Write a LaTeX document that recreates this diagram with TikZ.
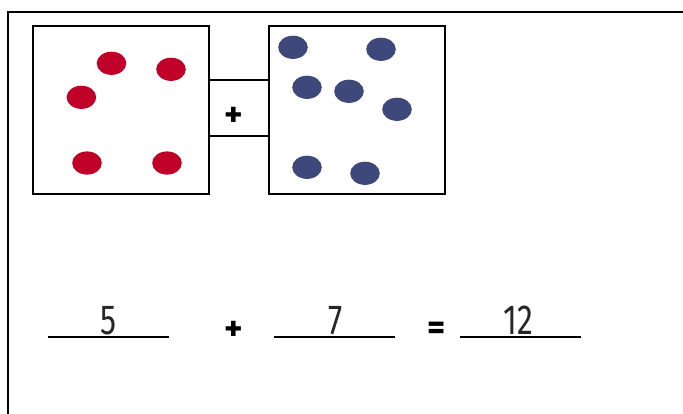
\documentclass[tikz,border=0pt]{standalone}
\usepackage{fontspec}
\setmainfont{Fira Sans}[BoldFont=* Bold]
\definecolor{dotred}{RGB}{192,0,40}
\definecolor{dotblue}{RGB}{62,72,122}
\begin{document}
\begin{tikzpicture}[x=1pt,y=-1pt,
  frame/.style={draw=black,line width=2.3pt},
  box/.style={draw=black,line width=2.3pt,fill=white},
  reddot/.style={fill=dotred,draw=none},
  bluedot/.style={fill=dotblue,draw=none},
  ansline/.style={draw=black,line width=2.3pt},
  digit/.style={font=\fontsize{42}{42}\selectfont,inner sep=0pt,xscale=0.76,text=black!85},
  op/.style={font=\bfseries\fontsize{35}{35}\selectfont,inner sep=0pt}]
\useasboundingbox (0,0) rectangle (683,413);
\clip (0,0) rectangle (683,413);
% outer frame
\coordinate (fb) at (8,420);
\coordinate (ft) at (8,12);
\coordinate (fr) at (690,12);
\draw[frame] (fb) -- (ft) -- (fr);
% boxes
\draw[box] (209,80) rectangle (269,136);
\node[op] (plusbox) at (233.5,117) {+};
\draw[box] (33,26) rectangle (209,194);
\draw[box] (269,26) rectangle (445,194);
% red dots
\foreach \x/\y in {111.5/63.3, 171/69.3, 81.4/97.3, 87/163, 167/163}
  \fill[reddot] (\x,\y) ellipse [x radius=14.8pt, y radius=11.6pt];
% blue dots
\foreach \x/\y in {293/47.3, 381/49.3, 307/87.3, 349/91.3, 397/109.3, 307/167.3, 365/173.3}
  \fill[bluedot] (\x,\y) ellipse [x radius=14.8pt, y radius=11.6pt];
% equation
\coordinate (l1a) at (48,337.3); \coordinate (l1b) at (168.6,337.3);
\coordinate (l2a) at (274.4,337.3); \coordinate (l2b) at (394.6,337.3);
\coordinate (l3a) at (460.4,337.3); \coordinate (l3b) at (580.6,337.3);
\draw[ansline] (l1a) -- (l1b);
\draw[ansline] (l2a) -- (l2b);
\draw[ansline] (l3a) -- (l3b);
\node[digit,anchor=base] (n5) at (108,334) {5};
\node[digit,anchor=base] (n7) at (336,334) {7};
\node[digit,anchor=base] (n12) at (518.3,334) {12};
\node[op] (plus) at (233.4,331) {+};
\node[op] (eq) at (436.8,331) {=};
\end{tikzpicture}
\end{document}
